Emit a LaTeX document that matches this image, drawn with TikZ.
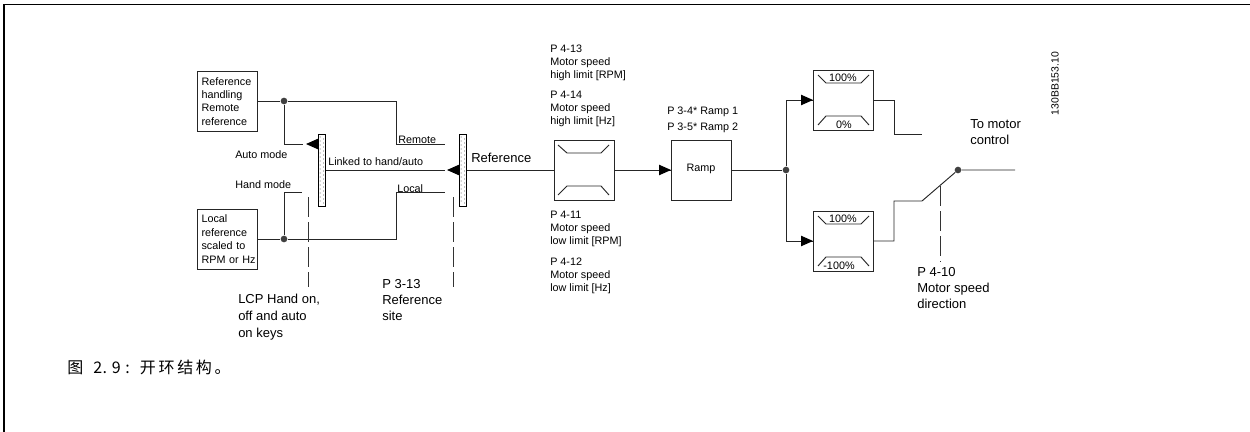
\documentclass[tikz,border=0pt]{standalone}
\usepackage{fontspec}
\setmainfont{Liberation Sans}
\newfontfamily\cjkf{Noto Sans CJK SC}
\usetikzlibrary{arrows.meta,calc}
\newcommand{\smalltxt}{\fontsize{8.1}{9.9}\selectfont}
\newcommand{\bigtxt}{\fontsize{9.75}{12}\selectfont}
\newcommand{\cjc}[1]{\makebox[14pt][l]{#1}}
\newcommand{\hwc}[1]{\makebox[7pt][l]{#1}}
\newcommand{\ind}{\hspace*{3.4pt}}
\tikzset{
 x=.75pt,y=-.75pt,
 conn/.style={line width=.7pt,draw=black!85},
 frameline/.style={line width=1pt,draw=black},
 boxn/.style={draw=black!85,line width=.7pt,fill=white,minimum width=45pt,minimum height=45pt,inner sep=0pt,outer sep=0pt,font=\smalltxt},
 txtbox/.style={boxn,align=left,text width=45pt},
 lab/.style={inner sep=0pt,anchor=base west,font=\smalltxt},
 blab/.style={inner sep=0pt,anchor=base west,font=\bigtxt},
 mlab/.style={inner sep=0pt,anchor=north west,align=left,font=\smalltxt},
 mblab/.style={inner sep=0pt,anchor=north west,align=left,font=\bigtxt},
 pct/.style={inner sep=0pt,anchor=base,font=\smalltxt},
 dashl/.style={line width=.7pt,draw=black!80,dash pattern=on 15pt off 3.8pt},
 head/.style={line width=0pt,-{Triangle[length=9pt,width=8pt]},draw=black},
 dotj/.style={circle,fill=black!75,inner sep=0pt,minimum size=5pt},
 sw/.style={draw=black,fill=white,line width=.7pt,minimum width=5.8pt,minimum height=54pt,inner sep=0pt,outer sep=0pt}
}
\begin{document}
\begin{tikzpicture}
\useasboundingbox (0,0) rectangle (1250,432);
\draw[frameline] (4,432) -- (4,4.5) -- (1250,4.5);
% boxes
\node[txtbox] (remref) at (227,101.5) {\ind Reference\\\ind handling\\\ind Remote\\\ind reference};
\node[txtbox] (locref) at (227,239) {\fontsize{8.1}{10.2}\selectfont \ind Local\\\ind reference\\\ind scaled to\\\ind RPM or Hz};
\node[sw] (b1) at (322,170) {};
\node[sw] (b2) at (463,170) {};
\foreach \bx in {322,463}{
 \foreach \k in {0,...,16}{
  \fill[black!70] (\bx-1.8,137+\k*4) circle (.4pt);
  \fill[black!70] (\bx+1.6,139+\k*4) circle (.4pt);
 }
}
\node[boxn] (lim) at (584,170) {};
\node[boxn] (ramp) at (701,170) {};
\node[font=\smalltxt,inner sep=0pt,anchor=base] (ramptxt) at (701,171) {Ramp};
\node[boxn] (tl) at (843,100) {};
\node[boxn] (bl) at (843,241) {};
% limiter glyphs
\draw[conn] (558,145) -- (567,153) -- (601,153) -- (609,145);
\draw[conn] (558,195) -- (567,186) -- (601,186) -- (609,195);
\draw[conn] (818,75) -- (826,83) -- (861,83) -- (869,75);
\draw[conn] (818,125) -- (826,116) -- (861,116) -- (869,125);
\draw[conn] (818,216) -- (826,224) -- (861,224) -- (869,216);
\draw[conn] (818,266) -- (826,257) -- (861,257) -- (869,266);
% junctions
\node[dotj] (j1) at (284,101) {};
\node[dotj] (j2) at (284,239) {};
\node[dotj] (j3) at (786,170) {};
\node[dotj] (j4) at (958,170) {};
% free ends
\coordinate (autoend) at (303,144);
\coordinate (handend) at (302,192);
\coordinate (remend) at (445,144);
\coordinate (locend) at (445,192);
\coordinate (linkend) at (445,170);
\coordinate (autobase) at (318,144);
\coordinate (autotip) at (306,144);
\coordinate (linkbase) at (459.3,170);
\coordinate (linktip) at (447,170);
\coordinate (tlend) at (922,134);
\coordinate (blend) at (922,201);
\coordinate (outend) at (1015,170);
\coordinate (swmid) at (940,186);
% connectors
\draw[conn] (remref.east |- j1) -- (j1) -- (396,101) -- (396,144) -- (remend);
\draw[conn] (j1) -- (284,144) -- (autoend);
\draw[conn] (locref.east |- j2) -- (j2) -- (396,239) -- (396,192) -- (locend);
\draw[conn] (j2) -- (284,192) -- (handend);
\draw[conn] (b1.east |- linkend) -- (linkend);
\draw[conn] (b2.east) -- (lim.west);
\draw[conn] (lim.east) -- (ramp.west);
\draw[conn] (ramp.east) -- (j3);
\draw[conn] (j3) -- (786,100) -- (tl.west);
\draw[conn] (j3) -- (786,241) -- (bl.west);
\draw[conn] (tl.east) -- (894,100) -- (894,134) -- (tlend);
\draw[conn] (bl.east) -- (894,241) -- (894,201) -- (blend) -- (j4) -- (outend);
% arrow heads
\draw[head] (autobase) -- (autotip);
\draw[head] (linkbase) -- (linktip);
\draw[head] ($(ramp.west)+(-12,0)$) -- (ramp.west);
\draw[head] ($(tl.west)+(-12,0)$) -- (tl.west);
\draw[head] ($(bl.west)+(-12,0)$) -- (bl.west);
% dashed
\coordinate (d1a) at (308,197); \coordinate (d1b) at (308,287);
\coordinate (d2a) at (453,197); \coordinate (d2b) at (453,287);
\coordinate (d3b) at (940,262);
\draw[dashl] (d1a) -- (d1b);
\draw[dashl] (d2a) -- (d2b);
\draw[dashl] (swmid) -- (d3b);
% labels
\node[lab] (t1) at (235,158) {Auto mode};
\node[lab] (t2) at (235,188) {Hand mode};
\node[lab] (t3) at (398,143) {Remote};
\node[lab] (t4) at (328,165) {Linked to hand/auto};
\node[lab] (t5) at (397,192) {Local};
\node[blab] (t6) at (471,162.5) {Reference};
\node[mblab,font=\fontsize{9.75}{12.7}\selectfont] (t7) at (238,293.5) {LCP Hand on,\\off and auto\\on keys};
\node[mblab] (t8) at (382,279.5) {P 3-13\\Reference\\site};
\node[mlab] (t9) at (550,44.5) {P 4-13\\Motor speed\\high limit [RPM]};
\node[mlab] (t10) at (550,90.5) {P 4-14\\Motor speed\\high limit [Hz]};
\node[mlab] (t11) at (550,210.5) {P 4-11\\Motor speed\\low limit [RPM]};
\node[mlab] (t12) at (550,257.5) {P 4-12\\Motor speed\\low limit [Hz]};
\node[lab] (t13) at (667,114) {P 3-4* Ramp 1};
\node[lab] (t14) at (667,130) {P 3-5* Ramp 2};
\node[pct] (p1) at (843,81) {100\%};
\node[pct] (p2) at (844,128) {0\%};
\node[pct] (p3) at (843,222) {100\%};
\node[pct] (p4) at (839,269) {-100\%};
\node[mblab] (t15) at (970,119) {To motor\\control};
\node[mblab] (t16) at (917,267) {P 4-10\\Motor speed\\direction};
\node[inner sep=0pt,rotate=90,font=\fontsize{7.8}{9}\selectfont] (t17) at (1055,83.5) {130BB153.10};
\node[inner sep=0pt,anchor=base west,font=\cjkf\fontsize{12}{14}\selectfont] (cap) at (67,373) {\cjc{图}\hspace{5.5pt}\hwc{2}\hwc{.}\hwc{9}\hspace{3pt}\hwc{:}\hspace{4pt}\cjc{开}\cjc{环}\cjc{结}\cjc{构}\cjc{。}};
\end{tikzpicture}
\end{document}
